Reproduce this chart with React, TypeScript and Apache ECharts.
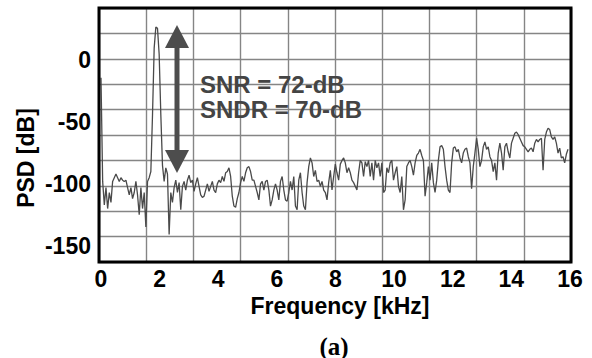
import React, { useEffect, useRef } from "react";
import * as echarts from "echarts";

// Frequency bins (kHz): uniform FFT grid
const FREQ_STEP = 0.0567;

// PSD values (dB), one per bin starting at 0 kHz
const PSD_LOW = [
  -14, -98, -117, -103, -120, -107, -115, -98, -95, -92, -95, -98, -95, -97, -98, -97,
  -103, -109, -103, -112, -107, -98, -109, -125, -103, -120, -107, -135, -98, -95, -90,
  -44, 10, 27, 26, 5, -44, -85, -98, -87, -92, -141, -107, -115, -103,
];
const PSD_B = [
  -97, -107, -99, -121, -102, -98, -105, -97, -93, -99, -97, -106, -100, -95, -102, -109,
  -111, -110, -105, -100, -106, -102, -98, -105, -107, -100, -97, -99, -94, -98, -91, -90,
  -87, -94, -110, -118, -119, -112, -107, -99, -94, -98, -91, -87, -86, -90, -97,
];
const PSD_C = [
  -97, -102, -107, -113, -100, -98, -105, -98, -97, -105, -118, -113, -105, -100, -105, -113,
  -98, -94, -105, -113, -114, -107, -98, -105, -94, -118, -121, -97, -91, -107, -118, -121,
  -99, -86, -79, -83, -94, -89, -98, -97, -102, -98, -105, -107, -113, -99, -89,
];
const PSD_D = [
  -105, -94, -84, -91, -97, -84, -81, -79, -83, -91, -87, -91, -97, -99, -102, -105, -91,
  -81, -83, -94, -82, -86, -81, -94, -83, -97, -81, -87, -83, -94, -83, -107, -105, -87,
  -91, -83, -81, -97, -91, -86, -102, -107, -94, -121, -113, -86, -83,
];
const PSD_E = [
  -81, -86, -93, -83, -77, -75, -72, -77, -81, -110, -99, -86, -97, -83, -99, -107, -97,
  -81, -70, -69, -72, -86, -97, -105, -107, -83, -71, -70, -74, -72, -79, -83, -75, -72,
  -71, -78, -83, -104, -86, -75, -63, -72, -86, -81, -70, -66, -72,
];
const PSD_HIGH = [
  -70, -78, -81, -90, -83, -97, -75, -67, -75, -89, -70, -67, -74, -79, -67, -63, -59,
  -58, -60, -63, -66, -69, -70, -72, -74, -72, -71, -74, -67, -64, -66, -64, -63, -89,
  -64, -58, -55, -56, -62, -64, -62, -67, -75, -71, -79, -78, -83, -76, -72,
];

const X_TICKS = [0, 2, 4, 6, 8, 10, 12, 14, 16];
const Y_TICKS = [-150, -100, -50, 0];
const ANNOTATIONS = ["SNR = 72-dB", "SNDR = 70-dB"];
const X_TITLE = "Frequency [kHz]";
const Y_TITLE = "PSD [dB]";
const CAPTION = "(a)";

export default function App() {
  const ref = useRef<HTMLDivElement>(null);

  useEffect(() => {
    if (!ref.current) return;
    const chart = echarts.init(ref.current, undefined, { renderer: "svg" });
    const psd = [...PSD_LOW, ...PSD_B, ...PSD_C, ...PSD_D, ...PSD_E, ...PSD_HIGH];
    const data = psd.map((v, i) => [i * FREQ_STEP, v]);

    const sans = "'Liberation Sans', Arial, sans-serif";
    const labelStyle = {
      fontFamily: sans,
      fontWeight: "bold" as const,
      fontSize: 23,
      color: "#000",
    };
    const gridLine = { show: true, lineStyle: { color: "#858585", width: 1.4 } };
    const arrowColor = "#4d4d4d";

    chart.setOption({
      animation: false,
      backgroundColor: "#fff",
      grid: { left: 99, top: 8, width: 472, height: 254, containLabel: false },
      xAxis: [
        {
          type: "value",
          min: -0.068,
          max: 16.035,
          position: "bottom",
          axisLine: { show: false },
          axisTick: { show: false },
          splitLine: { show: false },
          axisLabel: { ...labelStyle, margin: 5, customValues: X_TICKS },
        },
        {
          type: "value",
          min: 0,
          max: 10,
          interval: 1,
          position: "top",
          axisLine: { show: false },
          axisTick: { show: false },
          axisLabel: { show: false },
          splitLine: gridLine,
        },
      ],
      yAxis: [
        {
          type: "value",
          min: -163.3,
          max: 42.5,
          position: "left",
          axisLine: { show: false },
          axisTick: { show: false },
          splitLine: { show: false },
          axisLabel: { ...labelStyle, margin: 8, customValues: Y_TICKS },
        },
        {
          type: "value",
          min: 0,
          max: 10,
          interval: 1,
          position: "right",
          axisLine: { show: false },
          axisTick: { show: false },
          axisLabel: { show: false },
          splitLine: gridLine,
        },
      ],
      series: [
        {
          type: "line",
          xAxisIndex: 0,
          yAxisIndex: 0,
          data,
          showSymbol: false,
          symbol: "none",
          lineStyle: { color: "#4a4a4a", width: 1.3 },
          z: 5,
        },
      ],
      graphic: [
        {
          type: "rect",
          z: 100,
          shape: { x: 99, y: 8, width: 472, height: 254 },
          style: { fill: "none", stroke: "#000", lineWidth: 3 },
        },
        {
          type: "rect",
          z: 50,
          shape: { x: 174.5, y: 46, width: 5, height: 106 },
          style: { fill: arrowColor },
        },
        {
          type: "polygon",
          z: 50,
          shape: { points: [[165, 48], [189, 48], [177, 25]] },
          style: { fill: arrowColor },
        },
        {
          type: "polygon",
          z: 50,
          shape: { points: [[165, 150], [189, 150], [177, 173]] },
          style: { fill: arrowColor },
        },
        {
          type: "text",
          z: 60,
          x: 200,
          y: 84,
          style: {
            text: ANNOTATIONS[0],
            fontFamily: sans,
            fontWeight: "bold",
            fontSize: 24,
            fill: "#444",
            align: "left",
            verticalAlign: "middle",
          },
        },
        {
          type: "text",
          z: 60,
          x: 200,
          y: 109,
          style: {
            text: ANNOTATIONS[1],
            fontFamily: sans,
            fontWeight: "bold",
            fontSize: 24,
            fill: "#444",
            align: "left",
            verticalAlign: "middle",
          },
        },
        {
          type: "text",
          x: 340,
          y: 306,
          style: {
            text: X_TITLE,
            fontFamily: sans,
            fontWeight: "bold",
            fontSize: 23,
            fill: "#000",
            align: "center",
            verticalAlign: "middle",
          },
        },
        {
          type: "text",
          x: 26,
          y: 158,
          rotation: Math.PI / 2,
          style: {
            text: Y_TITLE,
            fontFamily: sans,
            fontWeight: "bold",
            fontSize: 23,
            fill: "#000",
            align: "center",
            verticalAlign: "middle",
          },
        },
        {
          type: "text",
          x: 334,
          y: 346,
          style: {
            text: CAPTION,
            fontFamily: "'Liberation Serif', 'Times New Roman', serif",
            fontWeight: "bold",
            fontSize: 25,
            fill: "#000",
            align: "center",
            verticalAlign: "middle",
          },
        },
      ],
    });

    return () => chart.dispose();
  }, []);

  return (
    <div
      ref={ref}
      style={{ position: "fixed", left: 0, top: 0, width: 592, height: 358, background: "#fff" }}
    />
  );
}
